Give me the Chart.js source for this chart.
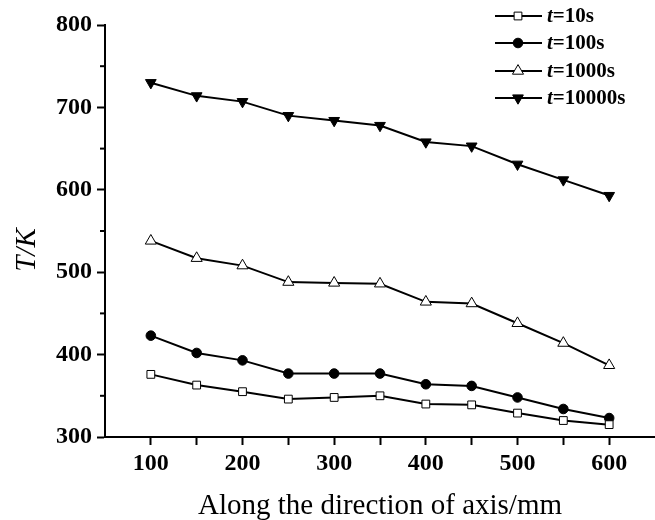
<!DOCTYPE html>
<html>
<head>
<meta charset="utf-8">
<script src="https://cdn.jsdelivr.net/npm/chart.js@4.4.1/dist/chart.umd.min.js"></script>
<style>
  html, body { margin: 0; padding: 0; background: #fff; }
</style>
</head>
<body>
<canvas id="tempChart" width="655" height="520"></canvas>
<script>
// positions along the axis (mm)
const positions = [100, 150, 200, 250, 300, 350, 400, 450, 500, 550, 600];

// temperature (K) at each time
const t10 = [376, 363, 355, 346, 348, 350, 340, 339, 329, 320, 315];
const t100 = [423, 402, 393, 377, 377, 377, 364, 362, 348, 334, 323];
const t1000 = [538, 517, 508, 488, 487, 486, 464, 462, 438, 414, 387];
const t10000 = [730, 714, 707, 690, 684, 678, 658, 653, 631, 612, 593];

const seriesNames = ["10s", "100s", "1000s", "10000s"];
const xTickLabels = [100, 200, 300, 400, 500, 600];
const yTickLabels = [300, 400, 500, 600, 700, 800];
const yMinorTicks = [350, 450, 550, 650, 750];

const FONT = "'Liberation Serif', 'Times New Roman', serif";

function toPoints(values) {
  return positions.map((x, i) => ({ x: x, y: values[i] }));
}

const markerStyles = [
  { pointStyle: 'rect', radius: 5.5, fill: '#fff', rotation: 0 },
  { pointStyle: 'circle', radius: 4.8, fill: '#000', rotation: 0 },
  { pointStyle: 'triangle', radius: 6.4, fill: '#fff', rotation: 0 },
  { pointStyle: 'triangle', radius: 6.2, fill: '#000', rotation: 180 }
];

const datasets = [t10, t100, t1000, t10000].map((vals, i) => ({
  label: 't=' + seriesNames[i],
  data: toPoints(vals),
  borderColor: '#000',
  borderWidth: 2,
  pointStyle: markerStyles[i].pointStyle,
  pointRadius: markerStyles[i].radius,
  pointRotation: markerStyles[i].rotation,
  pointBackgroundColor: markerStyles[i].fill,
  pointBorderColor: '#000',
  pointBorderWidth: 1,
  tension: 0,
  fill: false
}));

// minor ticks, y title and the legend with italic t
const extras = {
  id: 'extras',
  afterDraw(chart) {
    const ctx = chart.ctx;
    const yScale = chart.scales.y;
    ctx.save();

    ctx.strokeStyle = '#000';
    ctx.lineWidth = 2;
    yMinorTicks.forEach(v => {
      const py = yScale.getPixelForValue(v);
      ctx.beginPath();
      ctx.moveTo(yScale.right - 5, py);
      ctx.lineTo(yScale.right, py);
      ctx.stroke();
    });

    // y axis title
    ctx.save();
    ctx.translate(27, 250);
    ctx.rotate(-Math.PI / 2);
    ctx.fillStyle = '#000';
    ctx.font = "italic 29px " + FONT;
    ctx.textAlign = 'center';
    ctx.textBaseline = 'middle';
    ctx.fillText('T/K', 0, 0);
    ctx.restore();

    // legend
    const rowY = [16, 43, 71, 98];
    datasets.forEach((ds, i) => {
      const y = rowY[i];
      ctx.strokeStyle = '#000';
      ctx.lineWidth = 2;
      ctx.beginPath();
      ctx.moveTo(495, y);
      ctx.lineTo(542, y);
      ctx.stroke();

      ctx.fillStyle = markerStyles[i].fill;
      ctx.strokeStyle = '#000';
      ctx.lineWidth = 1;
      Chart.helpers.drawPoint(ctx, {
        pointStyle: markerStyles[i].pointStyle,
        radius: markerStyles[i].radius,
        rotation: markerStyles[i].rotation,
        borderWidth: 1
      }, 518, y);

      ctx.fillStyle = '#000';
      ctx.textBaseline = 'middle';
      ctx.textAlign = 'left';
      ctx.font = "italic bold 21px " + FONT;
      ctx.fillText('t', 547, y + 1);
      const w = ctx.measureText('t').width;
      ctx.font = "bold 21px " + FONT;
      ctx.fillText('=' + seriesNames[i], 547 + w, y + 1);
    });

    ctx.restore();
  }
};

new Chart(document.getElementById('tempChart').getContext('2d'), {
  type: 'line',
  data: { datasets },
  options: {
    responsive: false,
    animation: false,
    layout: {
      autoPadding: false,
      padding: { top: 25, right: 0, left: 0, bottom: 0 }
    },
    plugins: {
      legend: { display: false },
      tooltip: { enabled: false }
    },
    scales: {
      x: {
        type: 'linear',
        min: 50,
        max: 650,
        afterBuildTicks: scale => {
          scale.ticks = positions.map(v => ({ value: v }));
        },
        afterFit: scale => { scale.height = 83; },
        ticks: {
          color: '#000',
          padding: 4,
          font: { family: FONT, size: 24, weight: 'bold' },
          callback: v => xTickLabels.includes(v) ? String(v) : ''
        },
        grid: {
          drawOnChartArea: false,
          drawTicks: true,
          tickLength: 8,
          tickWidth: 2,
          tickColor: '#000'
        },
        border: { display: true, color: '#000', width: 2 },
        title: {
          display: true,
          text: 'Along the direction of axis/mm',
          color: '#000',
          font: { family: FONT, size: 29 },
          padding: { top: 0, bottom: -4 }
        }
      },
      y: {
        min: 300,
        max: 800,
        afterBuildTicks: scale => {
          scale.ticks = yTickLabels.map(v => ({ value: v }));
        },
        afterFit: scale => { scale.width = 105; },
        ticks: {
          color: '#000',
          padding: 5,
          font: { family: FONT, size: 24, weight: 'bold' },
          callback: v => String(v)
        },
        grid: {
          drawOnChartArea: false,
          drawTicks: true,
          tickLength: 8,
          tickWidth: 2,
          tickColor: '#000'
        },
        border: { display: true, color: '#000', width: 2 }
      }
    }
  },
  plugins: [extras]
});
</script>
</body>
</html>
